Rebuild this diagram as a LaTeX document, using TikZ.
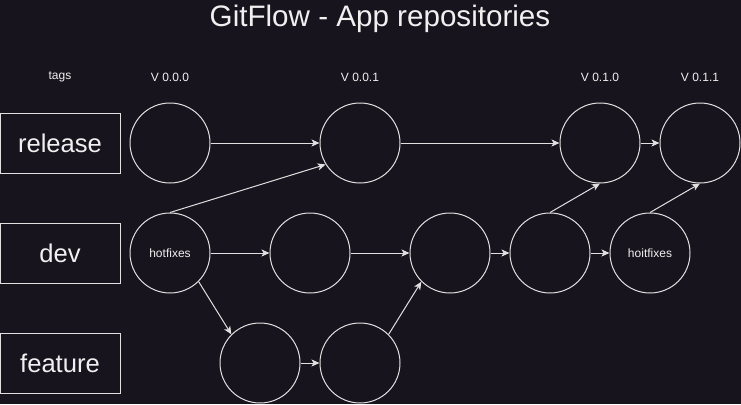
\documentclass[tikz,border=0pt]{standalone}
\usepackage{fontspec}
\setmainfont{Liberation Sans}
\usetikzlibrary{arrows.meta}

\definecolor{bgdark}{HTML}{18141D}
\definecolor{inkline}{HTML}{E0E0E0}
\definecolor{inktext}{HTML}{F0F0F0}

\begin{document}
\begin{tikzpicture}
[
	x=1pt,
	y=-1pt,
	branch/.style={draw=inkline,line width=1pt,minimum width=120pt,minimum height=60pt,inner sep=0pt,text=inktext,font=\fontsize{25.6}{30}\selectfont},
	commit/.style={circle,draw=inkline,line width=1pt,minimum size=80pt,inner sep=0pt,text=inktext,font=\fontsize{12}{14}\selectfont},
	tag/.style={text=inktext,inner sep=0pt,font=\fontsize{12}{14}\selectfont},
	flow/.style={draw=inkline,line width=1pt,-{Stealth[length=8pt,width=7pt,inset=2pt]}}
]

	% background
	\fill[bgdark] (0,0) rectangle (741,404);
	\useasboundingbox (0,0) rectangle (741,404);

	\node[text=inktext,inner sep=0pt,font=\fontsize{29.6}{34}\selectfont] at (380,19) (title) {GitFlow - App repositories};

	% branches
	\node[branch] at (60,143) (release) {release};
	\node[branch] at (60,253) (dev) {dev};
	\node[branch] at (60,363) (feature) {feature};

	% tags
	\node[tag] at (60,77) (tags) {tags};
	\node[tag] at (170,77) (v000) {V 0.0.0};
	\node[tag] at (360,77) (v001) {V 0.0.1};
	\node[tag] at (600,77) (v010) {V 0.1.0};
	\node[tag] at (700,77) (v011) {V 0.1.1};

	% release commits
	\node[commit] at (170,143) (rel1) {};
	\node[commit] at (360,143) (rel2) {};
	\node[commit] at (600,143) (rel3) {};
	\node[commit] at (700,143) (rel4) {};

	% dev commits
	\node[commit] at (170,253) (dev1) {hotfixes};
	\node[commit] at (310,253) (dev2) {};
	\node[commit] at (450,253) (dev3) {};
	\node[commit] at (550,253) (dev4) {};
	\node[commit] at (650,253) (dev5) {hoitfixes};

	% feature commits
	\node[commit] at (260,363) (feat1) {};
	\node[commit] at (360,363) (feat2) {};

	% arrows
	\draw[flow] (rel1) -- (rel2);
	\draw[flow] (rel2) -- (rel3);
	\draw[flow] (rel3) -- (rel4);
	\draw[flow] (dev1.north) -- (rel2.212);
	\draw[flow] (dev1) -- (dev2);
	\draw[flow] (dev2) -- (dev3);
	\draw[flow] (dev3) -- (dev4);
	\draw[flow] (dev4) -- (dev5);
	\draw[flow] (dev4.north) -- (rel3.south);
	\draw[flow] (dev5.north) -- (rel4.south);
	\draw[flow] (dev1.-45) -- (feat1.135);
	\draw[flow] (feat1) -- (feat2);
	\draw[flow] (feat2.45) -- (dev3.225);

\end{tikzpicture}
\end{document}
